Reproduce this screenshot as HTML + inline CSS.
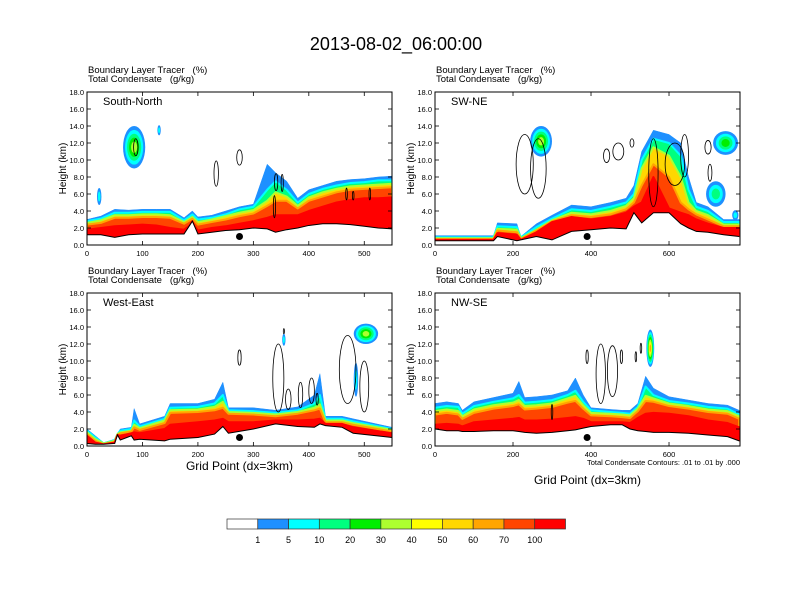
<!DOCTYPE html>
<html><head><meta charset="utf-8"><style>
html,body{margin:0;padding:0;background:#fff}
svg{display:block;font-family:"Liberation Sans",sans-serif}
</style></head><body>
<svg id="root" width="792" height="612" viewBox="0 0 792 612" xmlns="http://www.w3.org/2000/svg">
<text x="396" y="50" text-anchor="middle" font-size="18">2013-08-02_06:00:00</text>
<g id="panels"></g>
<g id="cbar"></g>
</svg>
<script>
// ---- data ----
const colorLabels = ["1","5","10","20","30","40","50","60","70","100"];
const colorFills = ["#ffffff","#1e90ff","#00ffff","#00ff7f","#00ee00","#adff2f","#ffff00","#ffd700","#ffa500","#ff4500","#ff0000"];
const yTicks = [0,2,4,6,8,10,12,14,16,18];

// Panel 1: South-North
const p1X = [0,25,50,75,100,125,150,175,190,200,225,250,275,300,325,340,360,380,400,425,450,475,500,525,550];
const p1Terrain = [1.2,1.2,0.9,1.2,1.3,1.3,1.3,1.3,2.8,1.3,1.5,1.7,1.8,2.0,1.9,1.5,1.8,2.0,2.3,2.5,2.5,2.4,2.2,2.0,1.9];
const p1Blue = [3.0,3.4,4.2,4.1,4.2,4.2,4.2,3.2,4.0,3.3,3.5,4.0,4.5,4.8,9.5,8.5,7.5,5.5,6.5,7.0,7.5,7.7,7.8,8.0,8.1];
const p1Green = [2.8,3.1,3.8,3.8,3.9,3.9,3.9,2.9,3.6,3.0,3.2,3.6,4.2,4.5,6.5,7.5,6.5,5.0,6.0,6.6,7.0,7.3,7.4,7.6,7.6];
const p1Yellow = [2.6,2.9,3.5,3.5,3.6,3.6,3.5,2.7,3.3,2.7,3.0,3.4,3.8,4.1,5.2,6.2,5.7,4.6,5.6,6.2,6.6,6.9,7.0,7.1,7.2];
const p1Orange = [2.4,2.6,3.2,3.2,3.3,3.3,3.2,2.5,3.1,2.4,2.7,3.0,3.4,3.7,4.6,5.2,5.2,4.3,5.2,5.7,6.2,6.5,6.6,6.7,6.8];
const p1Red = [1.8,2.0,2.2,2.3,2.4,2.3,2.0,1.8,2.5,1.7,2.0,2.2,2.5,2.8,3.2,3.5,3.5,3.5,4.0,4.5,5.0,5.3,5.5,5.5,5.6];
const p1BlobX = [85,130,22], p1BlobY = [11.5,13.5,5.7], p1BlobRX = [20,3,4], p1BlobRY = [2.5,0.6,1.0], p1BlobLvl = [4,1,1];
const p1CX = [233,275,88,341,352,338,468,480,510], p1CY = [8.4,10.3,11.5,7.4,7.3,4.5,6.0,5.8,6.0], p1CRX = [4,5,4,3,2,2,1.5,1.5,1.5], p1CRY = [1.5,0.9,1.0,1.0,1.0,1.3,0.7,0.5,0.7];

// Panel 2: SW-NE
const p2X = [0,150,160,210,220,260,300,350,400,450,490,510,530,560,600,630,650,670,700,740,780];
const p2Terrain = [0.5,0.5,1.0,0.5,0.6,1.0,0.6,1.6,1.8,2.0,1.9,3.8,2.6,3.8,3.8,2.5,2.0,1.6,1.5,1.2,1.0];
const p2Blue = [1.1,1.1,2.6,2.5,1.0,2.5,3.5,4.7,4.5,5.0,5.5,7.0,11.0,13.5,13.0,12.0,8.0,5.0,4.5,3.0,3.0];
const p2Green = [0.9,0.9,2.2,2.1,0.9,2.1,3.1,4.2,4.0,4.5,5.0,6.0,10.0,12.5,12.0,10.5,6.5,4.5,4.0,2.7,2.7];
const p2Yellow = [0.8,0.8,1.9,1.8,0.8,1.8,2.9,3.8,3.6,4.0,4.6,5.5,9.0,11.5,10.5,8.0,5.0,4.0,3.5,2.4,2.4];
const p2Orange = [0.7,0.7,1.7,1.5,0.7,1.7,2.8,3.5,3.3,3.6,4.2,5.0,7.0,9.5,8.0,5.0,4.2,3.6,3.0,2.2,2.2];
const p2Red = [0.6,0.6,1.4,1.2,0.6,1.5,2.7,3.3,3.0,3.3,3.8,4.5,5.0,8.0,4.3,3.8,3.5,3.0,2.5,2.0,2.0];
const p2BlobX = [272,745,720,770], p2BlobY = [12.2,12.0,6.0,3.5], p2BlobRX = [28,32,25,8], p2BlobRY = [1.8,1.4,1.5,0.6], p2BlobLvl = [4,3,2,1];
const p2CX = [230,265,440,470,505,560,615,640,700,705], p2CY = [9.5,9.0,10.5,11.0,12.0,8.5,9.5,10.5,11.5,8.5], p2CRX = [22,20,8,14,5,12,25,10,8,5], p2CRY = [3.5,3.5,0.8,1.0,0.5,4.0,2.5,2.5,0.8,1.0];

// Panel 3: West-East
const p3X = [0,15,30,50,55,60,80,85,95,140,150,200,230,245,255,300,340,380,410,420,430,460,480,550];
const p3Terrain = [0.3,0.2,0.2,0.3,1.3,0.7,1.2,0.7,0.8,0.6,0.8,1.0,1.4,2.3,1.5,2.0,2.6,2.3,2.2,2.6,2.4,2.2,1.5,1.0];
const p3Blue = [2.0,1.2,0.4,0.8,1.5,2.0,2.2,4.4,2.6,3.5,5.0,5.0,5.5,7.5,4.5,4.5,4.2,4.6,6.0,8.5,3.5,3.5,3.2,2.2];
const p3Green = [1.8,1.0,0.3,0.7,1.4,1.8,2.0,3.0,2.3,3.2,4.5,4.6,5.0,6.0,4.2,4.1,3.9,4.2,5.0,6.0,3.2,3.2,2.9,2.0];
const p3Yellow = [1.6,0.8,0.3,0.6,1.4,1.6,1.8,2.5,2.1,3.0,4.2,4.3,4.6,5.2,4.0,3.9,3.7,4.0,4.5,4.9,3.0,3.0,2.7,1.9];
const p3Orange = [1.4,0.6,0.2,0.5,1.3,1.5,1.7,2.2,1.9,2.7,3.9,4.0,4.2,4.5,3.8,3.7,3.5,3.8,4.2,4.4,2.8,2.8,2.5,1.7];
const p3Red = [1.2,0.4,0.2,0.4,1.3,1.2,1.5,1.6,1.5,2.0,2.5,2.8,3.0,3.2,2.8,2.8,3.0,3.0,3.1,3.2,2.6,2.6,2.2,1.5];
const p3BlobX = [503,485,355], p3BlobY = [13.2,7.8,12.5], p3BlobRX = [22,4,3], p3BlobRY = [1.2,2.0,0.7], p3BlobLvl = [4,1,1];
const p3CX = [275,345,363,385,405,415,470,500,355], p3CY = [10.4,8.0,5.5,6.0,6.5,5.5,9.0,7.0,13.5], p3CRX = [3,10,5,4,5,2,15,8,1], p3CRY = [0.9,4.0,1.2,1.5,1.5,0.7,4.0,3.0,0.3];

// Panel 4: NW-SE
const p4X = [0,30,60,70,100,150,200,215,230,260,300,340,360,380,400,450,480,500,520,540,560,600,650,700,750,780];
const p4Terrain = [2.0,1.8,1.8,1.7,1.7,1.8,1.8,1.7,1.6,1.5,1.6,1.8,1.9,2.1,2.3,2.5,2.5,2.0,1.8,1.7,1.6,1.6,1.5,1.3,1.1,0.6];
const p4Blue = [5.0,5.2,5.0,4.2,5.2,5.7,6.2,7.6,5.7,5.8,6.0,6.5,8.0,6.0,4.5,4.3,4.2,4.2,5.0,8.2,6.8,5.8,5.4,5.0,4.8,4.2];
const p4Green = [4.5,4.7,4.6,3.8,4.7,5.2,5.6,6.0,5.1,5.2,5.4,6.0,6.5,5.2,4.2,4.0,3.9,3.8,4.6,7.0,6.0,5.3,5.0,4.6,4.4,3.7];
const p4Yellow = [4.1,4.3,4.1,3.5,4.3,4.8,5.1,5.4,4.7,4.8,5.0,5.6,5.9,4.8,3.9,3.8,3.7,3.6,4.4,5.9,5.6,5.0,4.7,4.3,4.1,3.5];
const p4Orange = [3.7,3.9,3.7,3.2,3.9,4.4,4.7,4.9,4.3,4.4,4.6,5.1,5.3,4.4,3.6,3.5,3.4,3.3,4.1,5.3,5.2,4.7,4.4,4.0,3.8,3.2];
const p4Red = [2.5,2.6,2.5,2.3,2.8,3.0,3.2,3.3,3.0,3.0,3.1,3.3,3.4,3.2,2.8,2.8,2.8,2.7,3.3,3.8,3.9,3.8,3.5,3.0,2.7,2.2];
const p4BlobX = [552], p4BlobY = [11.5], p4BlobRX = [10], p4BlobRY = [2.2], p4BlobLvl = [6];
const p4CX = [390,425,455,478,528,515,300], p4CY = [10.5,8.5,8.8,10.5,11.5,10.5,4.0], p4CRX = [3,12,13,3,2,2,2], p4CRY = [0.8,3.5,3.0,0.8,0.6,0.6,0.9];

const panels = [
 {name:"south-north", label:"South-North", x0:87, y0:92, xmax:550, xt:[0,100,200,300,400,500], X:p1X,T:p1Terrain,L:[p1Blue,p1Green,p1Yellow,p1Orange,p1Red],BX:p1BlobX,BY:p1BlobY,BRX:p1BlobRX,BRY:p1BlobRY,BL:p1BlobLvl,CX:p1CX,CY:p1CY,CRX:p1CRX,CRY:p1CRY,dot:275},
 {name:"sw-ne", label:"SW-NE", x0:435, y0:92, xmax:782, xt:[0,200,400,600], X:p2X,T:p2Terrain,L:[p2Blue,p2Green,p2Yellow,p2Orange,p2Red],BX:p2BlobX,BY:p2BlobY,BRX:p2BlobRX,BRY:p2BlobRY,BL:p2BlobLvl,CX:p2CX,CY:p2CY,CRX:p2CRX,CRY:p2CRY,dot:390},
 {name:"west-east", label:"West-East", x0:87, y0:293, xmax:550, xt:[0,100,200,300,400,500], X:p3X,T:p3Terrain,L:[p3Blue,p3Green,p3Yellow,p3Orange,p3Red],BX:p3BlobX,BY:p3BlobY,BRX:p3BlobRX,BRY:p3BlobRY,BL:p3BlobLvl,CX:p3CX,CY:p3CY,CRX:p3CRX,CRY:p3CRY,dot:275},
 {name:"nw-se", label:"NW-SE", x0:435, y0:293, xmax:782, xt:[0,200,400,600], X:p4X,T:p4Terrain,L:[p4Blue,p4Green,p4Yellow,p4Orange,p4Red],BX:p4BlobX,BY:p4BlobY,BRX:p4BlobRX,BRY:p4BlobRY,BL:p4BlobLvl,CX:p4CX,CY:p4CY,CRX:p4CRX,CRY:p4CRY,dot:390}
];
const layerFill = ["#1e90ff","#00ff7f","#ffd700","#ff4500","#ff0000"];
const layerStroke = ["#1e90ff","#00ffff","#adff2f","#ffa500","#ff0000"];
const blobFill = ["#1e90ff","#00ffff","#00ff7f","#00ee00","#adff2f","#ffff00","#ffa500"];

const NS="http://www.w3.org/2000/svg";
function mk(tag, attrs, parent){const e=document.createElementNS(NS,tag);for(const k in attrs)e.setAttribute(k,attrs[k]);parent.appendChild(e);return e;}
const W=305, H=153;
const root=document.getElementById('panels');

panels.forEach((p,pi)=>{
  const g=mk('g',{},root);
  
  
  const sx=v=>p.x0+v/p.xmax*W, sy=v=>p.y0+H-v/18*H;
  const clipId='clip'+pi;
  const cp=mk('clipPath',{id:clipId},g); mk('rect',{x:p.x0,y:p.y0,width:W,height:H},cp);
  const plot=mk('g',{'clip-path':'url(#'+clipId+')'},g);
  const t1=mk('text',{x:p.x0+1,y:p.y0-19,'font-size':9.5,'xml:space':'preserve',style:'white-space:pre'},g); t1.textContent="Boundary Layer Tracer   (%)";
   
  const t2=mk('text',{x:p.x0+1,y:p.y0-10,'font-size':9.5,style:'white-space:pre'},g); t2.textContent="Total Condensate   (g/kg)";
   
  p.L.forEach((arr,li)=>{
    let d='M'+sx(p.X[0])+','+sy(arr[0]);
    for(let i=1;i<p.X.length;i++) d+=' L'+sx(p.X[i])+','+sy(arr[i]);
    for(let i=p.X.length-1;i>=0;i--) d+=' L'+sx(p.X[i])+','+sy(p.T[i]);
    const e=mk('path',{d:d+'Z',fill:layerFill[li],stroke:layerStroke[li],'stroke-width':li==0?0.5:2,'stroke-linejoin':'round'},plot);
    
    
  });
  let td='M'+sx(p.X[0])+','+sy(p.T[0]);
  for(let i=1;i<p.X.length;i++) td+=' L'+sx(p.X[i])+','+sy(p.T[i]);
  const tf=mk('path',{d:td+' L'+sx(p.xmax)+','+sy(0)+' L'+sx(0)+','+sy(0)+'Z',fill:'#fff'},plot);
   
  const tl=mk('path',{d:td,fill:'none',stroke:'#000','stroke-width':1},plot);
   
  p.BX.forEach((bx,bi)=>{
    for(let k=0;k<=p.BL[bi];k++){
      const f=1-k/(p.BL[bi]+1.5);
      const e=mk('ellipse',{cx:sx(bx),cy:sy(p.BY[bi]),rx:p.BRX[bi]/p.xmax*W*f,ry:p.BRY[bi]/18*H*f,fill:blobFill[k]},plot);
      
      
    }
  });
  p.CX.forEach((cx,ci)=>{
    const e=mk('ellipse',{cx:sx(cx),cy:sy(p.CY[ci]),rx:p.CRX[ci]/p.xmax*W,ry:p.CRY[ci]/18*H,fill:'none',stroke:'#000','stroke-width':0.8},plot);
    
    
  });
  const dot=mk('circle',{cx:sx(p.dot),cy:sy(1.0),r:3.5,fill:'#000'},plot);
   
  const fr=mk('rect',{x:p.x0,y:p.y0,width:W,height:H,fill:'none',stroke:'#000','stroke-width':1},g);
   
  yTicks.forEach(v=>{
    mk('line',{x1:p.x0,x2:p.x0+4,y1:sy(v),y2:sy(v),stroke:'#000','stroke-width':0.8},g);
    mk('line',{x1:p.x0+W,x2:p.x0+W-4,y1:sy(v),y2:sy(v),stroke:'#000','stroke-width':0.8},g);
    const t=mk('text',{x:p.x0-3,y:sy(v)+3,'font-size':7.5,'text-anchor':'end'},g); t.textContent=v.toFixed(1);
     
  });
  p.xt.forEach(v=>{
    mk('line',{x1:sx(v),x2:sx(v),y1:p.y0+H,y2:p.y0+H-4,stroke:'#000','stroke-width':0.8},g);
    mk('line',{x1:sx(v),x2:sx(v),y1:p.y0,y2:p.y0+4,stroke:'#000','stroke-width':0.8},g);
    const t=mk('text',{x:sx(v),y:p.y0+H+11,'font-size':7.5,'text-anchor':'middle'},g); t.textContent=String(v);
     
  });
  const yl=mk('text',{x:0,y:0,'font-size':10,'text-anchor':'middle',transform:'translate('+(p.x0-21)+','+(p.y0+H/2)+') rotate(-90)'},g);
  yl.textContent="Height (km)";
   
  const lb=mk('text',{x:p.x0+16,y:p.y0+13,'font-size':11},g); lb.textContent=p.label;
   
  if(pi>=2){
    const xl=mk('text',{x:p.x0+W/2,y:pi==2?p.y0+H+24:p.y0+H+38,'font-size':12,'text-anchor':'middle'},g);
    xl.textContent="Grid Point (dx=3km)";
     
  }
  if(pi==3){
    const ft=mk('text',{x:p.x0+W,y:p.y0+H+19,'font-size':7.5,'text-anchor':'end'},g);
    ft.textContent="Total Condensate Contours: .01 to .01 by .000";
     
  }
});

const cb=document.getElementById('cbar');
const cbX=227, cbY=519, cbW=338.5/11, cbH=10;
colorFills.forEach((c,i)=>{
  const r=mk('rect',{x:cbX+i*cbW,y:cbY,width:cbW,height:cbH,fill:c,stroke:'#333','stroke-width':0.7},cb);
  
  
});
colorLabels.forEach((l,i)=>{
  const t=mk('text',{x:cbX+(i+1)*cbW,y:cbY+24,'font-size':9,'text-anchor':'middle'},cb);
  t.textContent=l;
  
  
});
</script>
</body></html>
